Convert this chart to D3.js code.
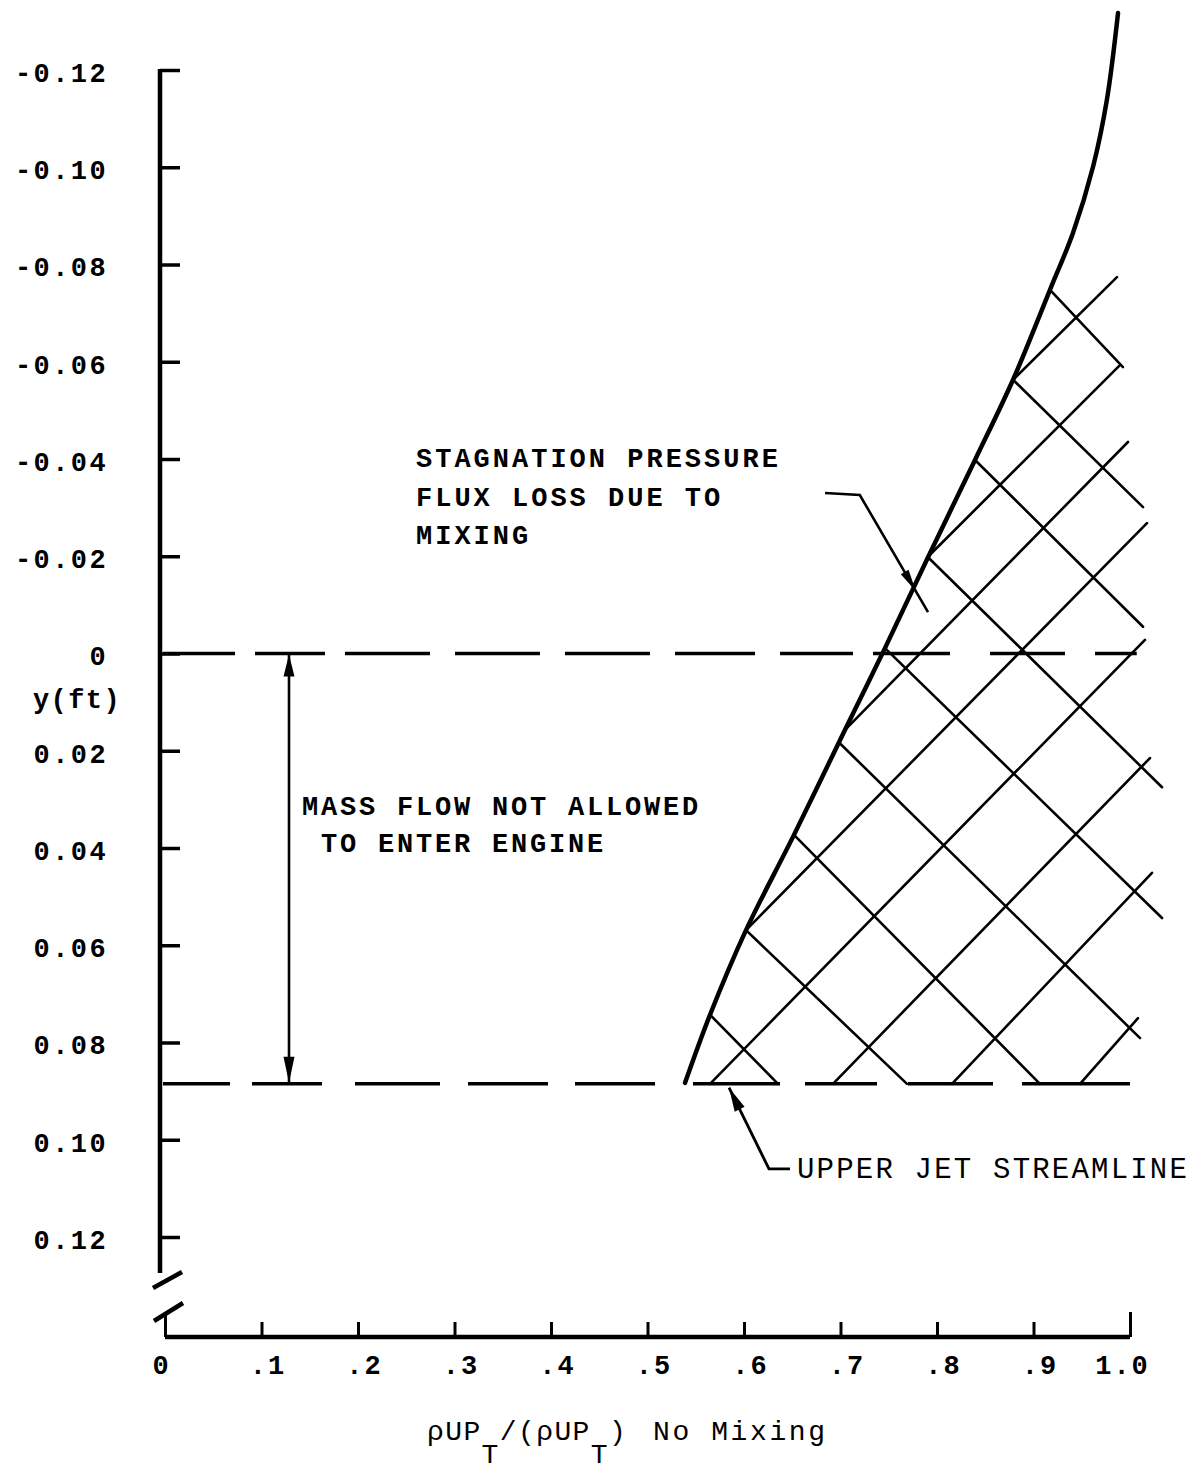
<!DOCTYPE html>
<html>
<head>
<meta charset="utf-8">
<script src="https://cdn.jsdelivr.net/npm/d3@7"></script>
<style>
  html, body { margin: 0; padding: 0; background: #fff; }
  svg { display: block; }
  text { font-family: "Liberation Mono", "DejaVu Sans Mono", monospace; fill: #000; }
</style>
</head>
<body>
<svg id="chart" width="1195" height="1480"></svg>
<script>
// ---- axis ticks ----
const yTickValues = [-0.12, -0.10, -0.08, -0.06, -0.04, -0.02, 0, 0.02, 0.04, 0.06, 0.08, 0.10, 0.12];
const yTickLabels = ["-0.12", "-0.10", "-0.08", "-0.06", "-0.04", "-0.02", "0", "0.02", "0.04", "0.06", "0.08", "0.10", "0.12"];
const xTickValues = [0, 0.1, 0.2, 0.3, 0.4, 0.5, 0.6, 0.7, 0.8, 0.9, 1.0];
const xTickLabels = ["0", ".1", ".2", ".3", ".4", ".5", ".6", ".7", ".8", ".9", "1.0"];

// ---- stagnation pressure flux ratio profile (ratio, y in ft) ----
const profileRatio = [0.9876, 0.9760, 0.9617, 0.9409, 0.9171, 0.8788, 0.8394, 0.7907, 0.7461, 0.7047, 0.6518, 0.6021, 0.5648, 0.5389];
const profileY     = [-0.1317, -0.1138, -0.1001, -0.0865, -0.0748, -0.0563, -0.0398, -0.0198, -0.0011, 0.0157, 0.0373, 0.0569, 0.0743, 0.0883];

// ---- reference streamlines (y, ft) ----
const inletEdgeY = 0;          // edge of captured flow
const upperJetY = 0.0885;      // upper jet streamline
const inletEdgeEnd = 1.007;
const upperJetEnd = 1.0;

// ---- cross-hatching of the loss region: [ratio1, y1, ratio2, y2] ----
const hatchRising = [
  [0.8788, -0.0563, 0.9865, -0.0774],
  [0.7927, -0.0203, 0.9896, -0.0593],
  [0.7047,  0.0157, 0.9979, -0.0435],
  [0.6021,  0.0569, 1.0176, -0.0268],
  [0.5648,  0.0885, 1.0155, -0.0028],
  [0.6922,  0.0885, 1.0207,  0.0215],
  [0.8155,  0.0885, 1.0228,  0.0451],
  [0.9482,  0.0885, 1.0083,  0.0750]
];
const hatchFalling = [
  [0.9171, -0.0748, 0.9927, -0.0589],
  [0.8788, -0.0563, 1.0135, -0.0301],
  [0.8394, -0.0398, 1.0135, -0.0055],
  [0.7907, -0.0198, 1.0332,  0.0275],
  [0.7461, -0.0011, 1.0332,  0.0544],
  [0.6990,  0.0184, 1.0104,  0.0791],
  [0.6518,  0.0373, 0.9067,  0.0885],
  [0.6021,  0.0569, 0.7689,  0.0885],
  [0.5648,  0.0743, 0.6352,  0.0885]
];

// ---- annotation anchors (ratio, y) ----
const massFlowArrowRatio = 0.1285;
const lossLeader = [[0.684, -0.0330], [0.720, -0.0326], [0.7907, -0.0085]];
const lossLeaderTip = 0.82;  // fraction along last segment where the head sits
const jetLeader = [[0.6477, 0.1060], [0.6259, 0.1060], [0.5845, 0.0893]];

const svg = d3.select("#chart");
const x = d3.scaleLinear().domain([0, 1]).range([165, 1130]);
const y = d3.scaleLinear().domain([-0.12, 0.12]).range([70, 1237]);

const axisXPos = 160;   // vertical axis position
const baseYPos = 1337;  // horizontal axis position
const ink = "#000";

// ---- vertical axis ----
const yAxis = d3.axisLeft(y)
  .tickValues(yTickValues)
  .tickFormat((d, i) => yTickLabels[i])
  .tickSizeInner(-20)
  .tickSizeOuter(0)
  .tickPadding(52);
const gy = svg.append("g").attr("transform", `translate(${axisXPos},0)`).call(yAxis);
gy.select(".domain").remove();
gy.selectAll(".tick line").attr("stroke", ink).attr("stroke-width", 3.5);
gy.selectAll(".tick text")
  .attr("dy", "0.42em")
  .style("font-size", "27px").style("font-weight", "bold")
  .style("letter-spacing", "2.4px").attr("fill", ink);
const yBreak = 0.1274;
gy.append("line").attr("x1", 0).attr("x2", 0)
  .attr("y1", y(-0.12) - 1).attr("y2", y(yBreak))
  .attr("stroke", ink).attr("stroke-width", 4.5);
gy.append("line")
  .attr("x1", -7).attr("y1", y(yBreak) + 15)
  .attr("x2", 22).attr("y2", y(yBreak) - 1)
  .attr("stroke", ink).attr("stroke-width", 4.5);

svg.append("text")
  .attr("x", 33).attr("y", 708)
  .attr("text-anchor", "start")
  .style("font-size", "27px").style("font-weight", "bold")
  .style("letter-spacing", "1.4px")
  .text("y(ft)");

// ---- horizontal axis ----
const xAxis = d3.axisBottom(x)
  .tickValues(xTickValues)
  .tickFormat((d, i) => xTickLabels[i])
  .tickSizeInner(-15)
  .tickSizeOuter(0)
  .tickPadding(18);
const gx = svg.append("g").attr("transform", `translate(0,${baseYPos})`).call(xAxis);
gx.select(".domain").remove();
gx.selectAll(".tick line")
  .attr("stroke", ink).attr("stroke-width", 3)
  .attr("y2", (d, i) => (i === 0 || i === xTickValues.length - 1) ? -25 : -15);
gx.selectAll(".tick text")
  .attr("dx", (d, i) => {
    const s = xTickLabels[i];
    return s.startsWith(".") ? 6 : (s === "0" ? -4 : -8);
  })
  .style("font-size", "27px").style("font-weight", "bold")
  .style("letter-spacing", "2px").attr("fill", ink);
gx.append("line")
  .attr("x1", x(0)).attr("x2", x(1))
  .attr("y1", 0).attr("y2", 0)
  .attr("stroke", ink).attr("stroke-width", 4.5);
gx.append("line")
  .attr("x1", x(0) - 11).attr("y1", -16)
  .attr("x2", x(0) + 18).attr("y2", -34)
  .attr("stroke", ink).attr("stroke-width", 4.5);

// ---- axis title ----
const title = svg.append("text")
  .attr("y", 1440)
  .style("font-size", "28px")
  .style("letter-spacing", "1.4px");
title.append("tspan").attr("x", 427).text("\u03C1UP");
title.append("tspan").attr("dy", 23).text("T");
title.append("tspan").attr("dy", -23).text("/(\u03C1UP");
title.append("tspan").attr("dy", 23).text("T");
title.append("tspan").attr("dy", -23).text(")");
title.append("tspan").attr("x", 653).style("letter-spacing", "2.6px").text("No Mixing");

// ---- streamlines (dashed) ----
const plot = svg.append("g");
plot.append("line")
  .attr("x1", x(0) - 2).attr("x2", x(inletEdgeEnd))
  .attr("y1", y(inletEdgeY)).attr("y2", y(inletEdgeY))
  .attr("stroke", ink).attr("stroke-width", 3.5)
  .attr("stroke-dasharray", "72,20,70,20,85,25,85,25,85,25,80,25,73,20,77,40,75,30,42");
plot.append("line")
  .attr("x1", x(0) - 2).attr("x2", x(upperJetEnd))
  .attr("y1", y(upperJetY)).attr("y2", y(upperJetY))
  .attr("stroke", ink).attr("stroke-width", 3.5)
  .attr("stroke-dasharray", "67,22,70,33,85,28,80,27,80,38,87,25,72,31,85,29,110");

// ---- cross-hatching ----
plot.selectAll("line.hatch")
  .data(hatchRising.concat(hatchFalling))
  .join("line")
  .attr("class", "hatch")
  .attr("x1", d => x(d[0])).attr("y1", d => y(d[1]))
  .attr("x2", d => x(d[2])).attr("y2", d => y(d[3]))
  .attr("stroke", ink).attr("stroke-width", 2.6)
  .attr("stroke-linecap", "round");

// ---- flux ratio profile ----
const profile = profileRatio.map((r, i) => [r, profileY[i]]);
plot.append("path")
  .datum(profile)
  .attr("d", d3.line().x(d => x(d[0])).y(d => y(d[1])).curve(d3.curveCatmullRom.alpha(0.5)))
  .attr("fill", "none").attr("stroke", ink).attr("stroke-width", 4.5)
  .attr("stroke-linecap", "round");

// ---- arrowhead helper ----
function head(tipX, tipY, fromX, fromY, len, half) {
  const dx = tipX - fromX, dy = tipY - fromY;
  const L = Math.hypot(dx, dy);
  const ux = dx / L, uy = dy / L;
  const bx = tipX - ux * len, by = tipY - uy * len;
  return `M${tipX},${tipY}L${bx - uy * half},${by + ux * half}L${bx + uy * half},${by - ux * half}Z`;
}

// ---- mass flow double arrow ----
const ax = x(massFlowArrowRatio);
plot.append("line")
  .attr("x1", ax).attr("x2", ax)
  .attr("y1", y(inletEdgeY)).attr("y2", y(upperJetY))
  .attr("stroke", ink).attr("stroke-width", 2.6);
plot.append("path").attr("d", head(ax, y(inletEdgeY) + 1, ax, y(inletEdgeY) + 40, 22, 5.5)).attr("fill", ink);
plot.append("path").attr("d", head(ax, y(upperJetY) - 1, ax, y(upperJetY) - 40, 26, 5.5)).attr("fill", ink);

// ---- leaders ----
const leaderLine = d3.line().x(d => x(d[0])).y(d => y(d[1]));
plot.append("path").attr("d", leaderLine(lossLeader))
  .attr("fill", "none").attr("stroke", ink).attr("stroke-width", 2.6);
{
  const a = lossLeader[1], b = lossLeader[2];
  const tx = x(a[0]) + (x(b[0]) - x(a[0])) * lossLeaderTip;
  const ty = y(a[1]) + (y(b[1]) - y(a[1])) * lossLeaderTip;
  plot.append("path").attr("d", head(tx, ty, x(a[0]), y(a[1]), 22, 4.5)).attr("fill", ink);
}
plot.append("path").attr("d", leaderLine(jetLeader))
  .attr("fill", "none").attr("stroke", ink).attr("stroke-width", 2.8);
{
  const a = jetLeader[1], b = jetLeader[2];
  plot.append("path").attr("d", head(x(b[0]), y(b[1]), x(a[0]), y(a[1]), 24, 5.5)).attr("fill", ink);
}

// ---- annotation text ----
const note1 = svg.append("text")
  .style("font-size", "27px").style("font-weight", "bold").style("letter-spacing", "3px");
note1.append("tspan").attr("x", 416).attr("y", 467).text("STAGNATION PRESSURE");
note1.append("tspan").attr("x", 416).attr("y", 506).text("FLUX LOSS DUE TO");
note1.append("tspan").attr("x", 416).attr("y", 544).text("MIXING");

const note2 = svg.append("text")
  .style("font-size", "27px").style("font-weight", "bold").style("letter-spacing", "2.8px");
note2.append("tspan").attr("x", 302).attr("y", 815).text("MASS FLOW NOT ALLOWED");
note2.append("tspan").attr("x", 321).attr("y", 852).text("TO ENTER ENGINE");

svg.append("text")
  .attr("x", 797).attr("y", 1178)
  .style("font-size", "29px").style("letter-spacing", "2.2px")
  .text("UPPER JET STREAMLINE");
</script>
</body>
</html>
